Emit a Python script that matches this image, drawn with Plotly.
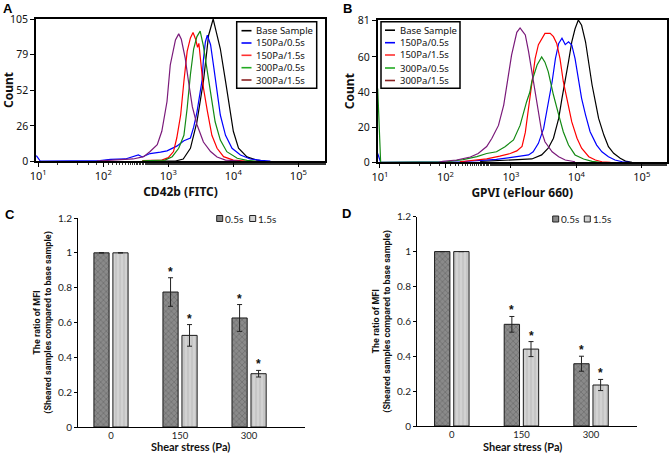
import numpy as np
import plotly.graph_objects as go

# ---------------- Panel A: CD42b (FITC) histograms (log10 intensity, count) ----------------
A_base_lx = [2.9, 3.11, 3.23, 3.34, 3.44, 3.54, 3.62, 3.69, 3.74, 3.8, 3.88, 3.95, 4.0, 4.08, 4.21, 4.36, 4.49]
A_base_y = [0, 0, 1.5, 9.4, 29, 59, 93, 105, 95, 83, 59, 39, 22, 9.5, 3, 0.7, 0]
A_150_05_lx = [0.97, 1.03, 1.95, 2.11, 2.34, 2.46, 2.54, 2.6, 2.72, 2.88, 2.98, 3.13, 3.24, 3.34, 3.39, 3.44, 3.49,
               3.52, 3.54, 3.57, 3.6, 3.62, 3.65, 3.7, 3.75, 3.8, 3.88, 3.98, 4.11, 4.26, 4.42, 4.57]
A_150_05_y = [4, 0, 0.3, 1.2, 1.5, 3, 4.5, 3, 5.5, 6.5, 7.5, 11, 15, 17, 25, 36, 52,
              60, 75, 88, 93, 90, 86, 69, 51, 34, 19, 9.4, 4.4, 1.5, 0.5, 0]
A_150_15_lx = [2.6, 2.9, 3.0, 3.08, 3.13, 3.19, 3.24, 3.29, 3.34, 3.38, 3.42, 3.45, 3.47, 3.51, 3.54, 3.6,
               3.67, 3.75, 3.85, 4.0, 4.19]
A_150_15_y = [0.3, 0.7, 2.5, 7, 17, 34, 59, 81, 91, 95, 90, 84, 87, 70, 54, 37, 19, 9.4, 3.2, 0.7, 0]
A_300_05_lx = [2.6, 2.95, 3.06, 3.16, 3.24, 3.29, 3.34, 3.39, 3.44, 3.49, 3.54, 3.6, 3.65, 3.72, 3.8, 3.9,
               4.06, 4.21, 4.34]
A_300_05_y = [0.2, 0.7, 3.2, 9.4, 19, 39, 64, 83, 92, 96, 85, 66, 49, 29, 15.5, 6.9, 2, 0.5, 0]
A_300_15_lx = [1.9, 2.11, 2.46, 2.62, 2.72, 2.83, 2.9, 2.98, 3.03, 3.11, 3.16, 3.2, 3.26, 3.31, 3.37, 3.44,
               3.49, 3.54, 3.65, 3.75, 3.88, 4.11]
A_300_15_y = [0, 0.5, 1.5, 3.2, 7, 12, 22, 44, 71, 89.5, 94, 90, 76, 59, 40, 27, 20, 14, 7, 3, 0.7, 0]

# ---------------- Panel B: GPVI (eFlour 660) histograms ----------------
B_base_lx = [2.53, 2.99, 3.32, 3.47, 3.57, 3.65, 3.73, 3.78, 3.83, 3.88, 3.93, 3.98, 4.03, 4.08, 4.14,
             4.19, 4.24, 4.29, 4.34, 4.42, 4.49, 4.57, 4.67, 4.75, 4.85]
B_base_y = [0.5, 1.2, 1.9, 4.2, 8, 13.7, 25, 36.4, 45.9, 57.3, 68.6, 76, 81, 78, 68.6,
            55.4, 44, 34.5, 25, 15.5, 8.9, 5.1, 2.3, 0.7, 0]
B_150_05_lx = [0.965, 0.99, 1.01, 2.22, 2.43, 2.78, 3.09, 3.27, 3.34, 3.42, 3.5, 3.57, 3.63, 3.68, 3.73, 3.78,
               3.83, 3.88, 3.93, 3.98, 4.03, 4.08, 4.14, 4.21, 4.31, 4.39, 4.49, 4.59, 4.7, 4.82]
B_150_05_y = [5, 2, 0, 0.3, 0.7, 1.7, 3.2, 4.2, 6, 10.8, 19.3, 32.6, 46, 59, 67.7, 70.6,
              67, 68.6, 66.8, 59, 47.8, 36.4, 27, 17.4, 9.8, 6, 3.2, 1.3, 0.3, 0]
B_150_15_lx = [2.22, 2.38, 2.63, 2.83, 2.99, 3.09, 3.17, 3.22, 3.27, 3.32, 3.37, 3.42, 3.47, 3.52, 3.6, 3.65,
               3.7, 3.75, 3.8, 3.86, 3.93, 4.01, 4.08, 4.19, 4.29, 4.39, 4.52]
B_150_15_y = [0.3, 0.8, 2, 3.5, 5, 6.5, 9, 17, 30.7, 46, 59, 67, 70.6, 73.4, 73.4, 71.5,
              67.7, 59, 46, 34.5, 23, 13.7, 8, 3.2, 1.3, 0.3, 0]
B_300_05_lx = [0.965, 0.99, 1.01, 2.02, 2.27, 2.48, 2.63, 2.78, 2.91, 3.04, 3.14, 3.24, 3.29, 3.32, 3.4, 3.47,
               3.52, 3.57, 3.65, 3.73, 3.8, 3.88, 3.98, 4.11, 4.24, 4.36]
B_300_05_y = [42, 15, 0, 0.3, 1.5, 3.2, 5, 6, 8.9, 12.7, 21, 34.5, 40, 46, 55.4, 60,
              57, 51.6, 38.3, 27, 17.4, 9.8, 4.2, 1.9, 0.5, 0]
B_300_15_lx = [1.9, 1.96, 2.17, 2.38, 2.5, 2.63, 2.71, 2.81, 2.89, 2.95, 3.01, 3.09, 3.14, 3.17, 3.22, 3.27,
               3.32, 3.37, 3.42, 3.47, 3.52, 3.63, 3.73, 3.83, 3.98]
B_300_15_y = [0, 0.5, 1.3, 3, 5, 9, 13.7, 21, 32.6, 46, 61, 74, 76.5, 75, 72.5, 63,
              51.6, 38.3, 27, 17.4, 11.7, 6, 3.2, 1.3, 0.3]

series_names = ["Base Sample", "150Pa/0.5s", "150Pa/1.5s", "300Pa/0.5s", "300Pa/1.5s"]
series_colors = ["#000000", "#0000ff", "#ff0000", "#138a13", "#7a1a7a"]
legend_colors = ["#000000", "#0000ff", "#ff3030", "#22aa22", "#8b2222"]

# ---------------- Panels C / D: bar charts ----------------
categories = ["0", "150", "300"]
bar_names = ["0.5s", "1.5s"]
C_05 = [1.0, 0.775, 0.626]
C_05_err = [0.0, 0.082, 0.077]
C_15 = [1.0, 0.526, 0.306]
C_15_err = [0.0, 0.062, 0.019]
D_05 = [1.0, 0.583, 0.357]
D_05_err = [0.0, 0.045, 0.043]
D_15 = [1.0, 0.441, 0.235]
D_15_err = [0.0, 0.043, 0.032]
sig_05 = [False, True, True]
sig_15 = [False, True, True]

FONT = "Noto Sans"
BFONT = "Lato"
W, H = 669, 454
fig = go.Figure()

hist_sets = [
    ("x", "y", [(A_base_lx, A_base_y), (A_150_05_lx, A_150_05_y), (A_150_15_lx, A_150_15_y),
                (A_300_05_lx, A_300_05_y), (A_300_15_lx, A_300_15_y)]),
    ("x2", "y2", [(B_base_lx, B_base_y), (B_150_05_lx, B_150_05_y), (B_150_15_lx, B_150_15_y),
                  (B_300_05_lx, B_300_05_y), (B_300_15_lx, B_300_15_y)]),
]
for xa, ya, curves in hist_sets:
    for (lx, yy), nm, col in zip(curves, series_names, series_colors):
        fig.add_trace(go.Scatter(x=np.power(10.0, lx), y=yy, mode="lines", name=nm,
                                 line=dict(color=col, width=1.2), xaxis=xa, yaxis=ya,
                                 showlegend=False))

dark_col, light_col = "#8a8a8a", "#d2d2d2"
dark = dict(color=dark_col, line=dict(color="#1a1a1a", width=1),
            pattern=dict(shape="x", fgcolor="#555555", size=4, solidity=0.35, fillmode="overlay"))
light = dict(color=light_col, line=dict(color="#1a1a1a", width=1),
             pattern=dict(shape="|", fgcolor="#aaaaaa", size=4, solidity=0.3, fillmode="overlay"))
err_style = dict(type="data", color="#222222", thickness=1, width=2.5)

for xa, ya, v05, e05, v15, e15 in [("x3", "y3", C_05, C_05_err, C_15, C_15_err),
                                   ("x4", "y4", D_05, D_05_err, D_15, D_15_err)]:
    fig.add_trace(go.Bar(x=categories, y=v05, name=bar_names[0], marker=dark, showlegend=False,
                         error_y=dict(array=[e if e > 0 else None for e in e05], **err_style),
                         xaxis=xa, yaxis=ya))
    fig.add_trace(go.Bar(x=categories, y=v15, name=bar_names[1], marker=light, showlegend=False,
                         error_y=dict(array=[e if e > 0 else None for e in e15], **err_style),
                         xaxis=xa, yaxis=ya))
    for i in range(len(categories)):
        for v, e, s, off in [(v05[i], e05[i], sig_05[i], -0.1375), (v15[i], e15[i], sig_15[i], 0.1375)]:
            if s:
                fig.add_annotation(x=i + off, y=v + e, xref=xa, yref=ya, text="<b>*</b>",
                                   showarrow=False, yanchor="bottom", yshift=-3,
                                   font=dict(family="Liberation Sans", size=12, color="#111"))

# ---------------- layout ----------------
def px_dom(a, b):
    return [a / W, b / W]
def py_dom(top, bottom):
    return [1 - bottom / H, 1 - top / H]

dec = [10, 100, 1000, 10000, 100000]
dec_txt = ["10<sup>1</sup>", "10<sup>2</sup>", "10<sup>3</sup>", "10<sup>4</sup>", "10<sup>5</sup>"]

hist_x = dict(type="log", tickvals=dec, ticktext=dec_txt, ticks="outside", ticklen=4, automargin=False,
              tickcolor="black", linecolor="black", linewidth=1.5, mirror=True, showgrid=False,
              zeroline=False, tickfont=dict(family=FONT, size=11, color="#111"),
              minor=dict(ticks="outside", ticklen=2, tickcolor="#333", showgrid=False))
hist_y = dict(ticks="outside", ticklen=4, tickcolor="black", linecolor="black", linewidth=1.5,
              mirror=True, showgrid=False, zeroline=False, automargin=False,
              tickfont=dict(family=FONT, size=10.5, color="#111"))

fig.update_layout(
    width=W, height=H, autosize=False, margin=dict(l=0, r=0, t=0, b=0),
    paper_bgcolor="white", plot_bgcolor="white", font=dict(family=FONT, color="#111"),
    barmode="group", bargap=0.45, bargroupgap=0.2, showlegend=False,
    xaxis=dict(hist_x, domain=px_dom(36, 325), range=[0.965, 5.41], anchor="y",
               title=dict(text="<b>CD42b (FITC)</b>", font=dict(size=12), standoff=2)),
    yaxis=dict(hist_y, domain=py_dom(19, 161), range=[0, 105], tickvals=[0, 26, 52, 79, 105],
               anchor="x", title=dict(text="<b>Count</b>", font=dict(size=12), standoff=0)),
    xaxis2=dict(hist_x, domain=px_dom(377.7, 666.7), range=[0.965, 5.38], anchor="y2",
                title=dict(text="<b>GPVI (eFlour 660)</b>", font=dict(size=12), standoff=2)),
    yaxis2=dict(hist_y, domain=py_dom(20, 162.3), range=[0, 81], tickvals=[0, 20, 40, 60, 81],
                anchor="x2", title=dict(text="<b>Count</b>", font=dict(size=12), standoff=0)),
)

bar_x = dict(type="category", showline=True, linecolor="black", linewidth=1, ticks="", automargin=False,
             showgrid=False, zeroline=False, tickfont=dict(family=BFONT, size=9.5, color="#222"))
bar_y = dict(showline=True, linecolor="black", linewidth=1, ticks="outside", ticklen=3, automargin=False,
             tickcolor="black", showgrid=False, zeroline=False, range=[0, 1.2],
             tickvals=[0, 0.2, 0.4, 0.6, 0.8, 1.0, 1.2], ticktext=["0", "0.2", "0.4", "0.6", "0.8", "1", "1.2"],
             tickfont=dict(family=BFONT, size=10, color="#222"))
ytitle = "<b>The ratio of MFI<br>(Sheared samples compared to base sample)</b>"
fig.update_layout(
    xaxis3=dict(bar_x, domain=px_dom(78, 305), range=[-0.478, 2.81], anchor="y3"),
    yaxis3=dict(bar_y, domain=py_dom(218, 427), anchor="x3",
                title=dict(text=ytitle, font=dict(family="Roboto", size=9, color="#111"), standoff=4)),
    xaxis4=dict(bar_x, domain=px_dom(417, 637), range=[-0.5, 2.66], anchor="y4"),
    yaxis4=dict(bar_y, domain=py_dom(216.7, 426), anchor="x4",
                title=dict(text=ytitle, font=dict(family="Roboto", size=9, color="#111"), standoff=4)),
)

# x titles of the bar panels
for cx in [190, 522]:
    fig.add_annotation(text="<b>Shear stress (Pa)</b>", x=cx / W, y=0, xref="paper", yref="paper",
                       xanchor="center", yanchor="bottom", showarrow=False, borderpad=0,
                       font=dict(family=BFONT, size=11, color="#111"))

# ---------------- hand-drawn legends ----------------
shapes = []
def add_hist_legend(x0, x1, y0, y1, line_x0, line_x1, text_x, rows):
    shapes.append(dict(type="rect", xref="paper", yref="paper", x0=x0 / W, x1=x1 / W,
                       y0=1 - y1 / H, y1=1 - y0 / H, line=dict(color="black", width=1.5),
                       fillcolor="white", layer="above"))
    for ry, nm, col in zip(rows, series_names, legend_colors):
        shapes.append(dict(type="line", xref="paper", yref="paper", x0=line_x0 / W, x1=line_x1 / W,
                           y0=1 - ry / H, y1=1 - ry / H, line=dict(color=col, width=1.6), layer="above"))
        fig.add_annotation(text=nm, x=text_x / W, y=1 - ry / H, xref="paper", yref="paper",
                           xanchor="left", yanchor="middle", showarrow=False,
                           font=dict(family=FONT, size=9.5, color="#111"))

add_hist_legend(236.7, 316.7, 21.7, 88.3, 241.5, 251.5, 254, [30.7, 43, 55.3, 67.7, 80])
add_hist_legend(381, 460, 21.7, 88.3, 385, 395, 397.5, [30.2, 42.7, 55, 68, 80.5])

def add_bar_legend(sq_x, txt_x, cy):
    for sx, tx, nm, col in zip(sq_x, txt_x, bar_names, [dark_col, light_col]):
        shapes.append(dict(type="rect", xref="paper", yref="paper", x0=sx / W, x1=(sx + 6) / W,
                           y0=1 - (cy + 3) / H, y1=1 - (cy - 3) / H,
                           line=dict(color="#222", width=1), fillcolor=col))
        fig.add_annotation(text=nm, x=tx / W, y=1 - cy / H, xref="paper", yref="paper",
                           xanchor="left", yanchor="middle", showarrow=False,
                           font=dict(family=BFONT, size=10, color="#222"))

add_bar_legend([216.7, 249.7], [223, 256.2], 218.5)
add_bar_legend([552.7, 584.3], [559, 590.5], 219)

fig.update_layout(shapes=shapes)

for txt, x, y in [("A", 2, 0), ("B", 342, 0), ("C", 4, 206), ("D", 341, 205)]:
    fig.add_annotation(text=f"<b>{txt}</b>", x=x / W, y=1 - y / H, xref="paper", yref="paper",
                       xanchor="left", yanchor="top", showarrow=False, borderpad=0,
                       font=dict(family="Liberation Sans", size=13, color="black"))

fig.write_html("out.html", config={"displayModeBar": False},
               post_script="document.body.style.margin='0px';")
